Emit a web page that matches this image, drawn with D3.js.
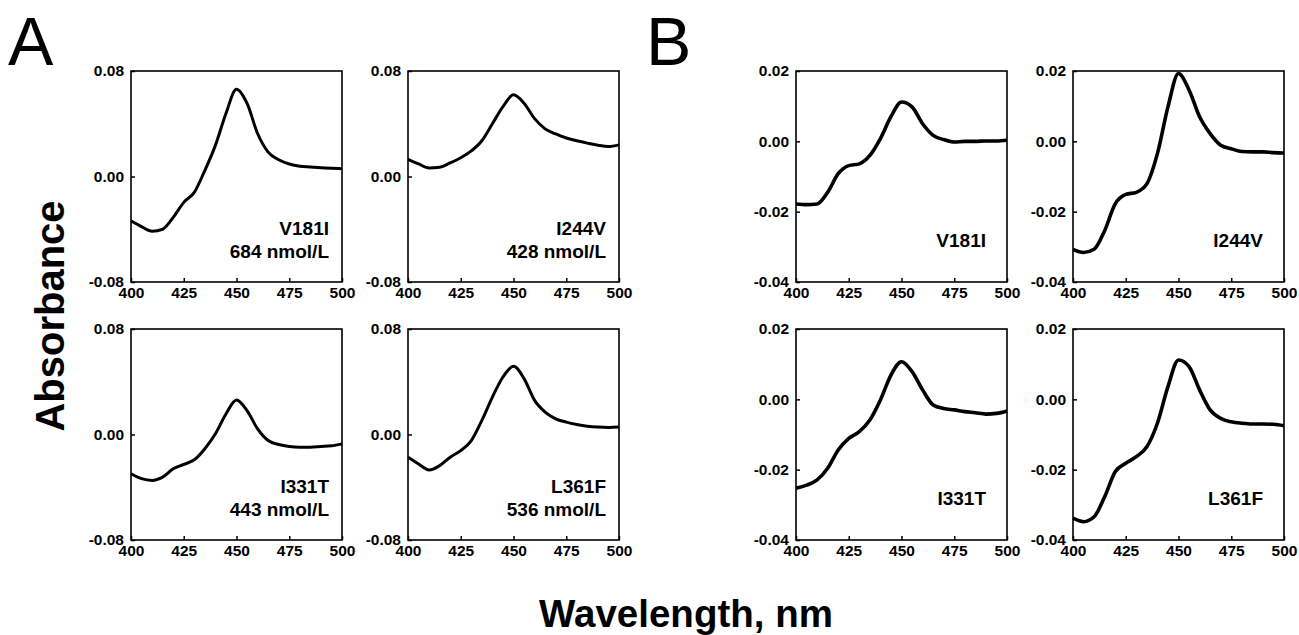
<!DOCTYPE html>
<html>
<head>
  <meta charset="utf-8">
  <script src="https://d3js.org/d3.v7.min.js"></script>
  <style>
    body { margin: 0; background: #fff; }
    .axis text { font-family: "Liberation Sans", Arial, sans-serif; font-size: 15.5px; font-weight: bold; fill: #000; }
    .axis path { display: none; }
    .axis line { stroke: #000; stroke-width: 1.5; }
    .frame { fill: none; stroke: #000; stroke-width: 1.6; }
    .spectrum { fill: none; stroke: #000; stroke-width: 3; stroke-linejoin: round; }
    .spectrum.noisy { stroke-width: 3.6; }
    .note { font-family: "Liberation Sans", Arial, sans-serif; font-size: 19px; font-weight: bold; text-anchor: end; }
    .title { font-family: "Liberation Sans", Arial, sans-serif; font-weight: bold; }
    .letter { font-family: "Liberation Sans", Arial, sans-serif; font-size: 68px; }
  </style>
</head>
<body>
  <script>

    // wavelength grid (nm)
    var wavelengths = [400, 405, 410, 415, 420, 425, 430, 435, 440, 445, 450,
                       455, 460, 465, 470, 475, 480, 485, 490, 495, 500];

    // panel A spectra (absorbance)
    var aV181I = [-0.0335, -0.038, -0.0415, -0.040, -0.031, -0.0196, -0.012, 0.0046, 0.0236, 0.0478, 0.0661,
                  0.0554, 0.0326, 0.0185, 0.0127, 0.0095, 0.0078, 0.0072, 0.0066, 0.0062, 0.0059];
    var aI244V = [0.0129, 0.0095, 0.0065, 0.0070, 0.0103, 0.0142, 0.0194, 0.0271, 0.040, 0.0529, 0.0619,
                  0.0555, 0.0439, 0.0361, 0.0323, 0.0292, 0.0271, 0.0253, 0.0237, 0.0227, 0.024];
    var aI331T = [-0.0298, -0.0335, -0.0348, -0.0323, -0.026, -0.0227, -0.0192, -0.0108, 0.0005, 0.0156, 0.0262,
                  0.0181, 0.0043, -0.0045, -0.0076, -0.0091, -0.0096, -0.0096, -0.0091, -0.0086, -0.0071];
    var aL361F = [-0.0172, -0.0223, -0.0269, -0.0236, -0.0172, -0.0122, -0.0046, 0.0107, 0.0284, 0.0436, 0.0517,
                  0.0424, 0.0259, 0.017, 0.0119, 0.0094, 0.0076, 0.0063, 0.0056, 0.0053, 0.0056];

    // panel B spectra (absorbance)
    var bV181I = [-0.0178, -0.018, -0.0178, -0.0145, -0.0092, -0.0069, -0.0064, -0.004, 0.0008, 0.007, 0.0112,
                  0.0098, 0.005, 0.0017, 0.0005, -0.0002, 0.0, 0.0, 0.0001, 0.0001, 0.0003];
    var bI244V = [-0.0307, -0.0316, -0.0307, -0.0254, -0.0178, -0.0151, -0.0145, -0.0121, -0.0035, 0.0098, 0.0193,
                  0.0146, 0.007, 0.0022, -0.0011, -0.0021, -0.0029, -0.003, -0.003, -0.0032, -0.0033];
    var bI331T = [-0.0253, -0.0244, -0.0229, -0.0196, -0.0144, -0.0111, -0.0092, -0.0059, -0.0002, 0.0069, 0.0107,
                  0.0079, 0.0027, -0.0016, -0.0026, -0.003, -0.0035, -0.0038, -0.0042, -0.004, -0.0033];
    var bL361F = [-0.0338, -0.0348, -0.0334, -0.0277, -0.0206, -0.0182, -0.0163, -0.0135, -0.0068, 0.0036, 0.0112,
                  0.0093, 0.0027, -0.003, -0.0054, -0.0064, -0.0068, -0.007, -0.007, -0.0071, -0.0075];

    // labels and ticks
    var variants = ["V181I", "I244V", "I331T", "L361F"];
    var concentrations = ["684 nmol/L", "428 nmol/L", "443 nmol/L", "536 nmol/L"];
    var xTicks = [400, 425, 450, 475, 500];
    var yTicksA = [-0.08, 0, 0.08];
    var yTicksB = [-0.04, -0.02, 0, 0.02];

    // layout
    var W = 1299, H = 635;
    var pw = 211, ph = 211;
    var colsA = [131, 408], colsB = [796, 1073];
    var rows = [71, 329];

    var svg = d3.select("body").append("svg")
        .attr("width", W)
        .attr("height", H);

    var line = d3.line().curve(d3.curveMonotoneX);

    function panel(x0, y0, values, yDomain, yTicks, notes, noteOffset, cls) {
      var g = svg.append("g").attr("transform", "translate(" + x0 + "," + y0 + ")");
      var x = d3.scaleLinear().domain([400, 500]).range([0, pw]);
      var y = d3.scaleLinear().domain(yDomain).range([ph, 0]);

      g.append("g")
          .attr("class", "axis")
          .attr("transform", "translate(0," + ph + ")")
          .call(d3.axisBottom(x).tickValues(xTicks).tickSizeInner(-4).tickSizeOuter(0).tickPadding(5)
            .tickFormat(function(d) { return d; }));

      g.append("g")
          .attr("class", "axis")
          .call(d3.axisLeft(y).tickValues(yTicks).tickSizeInner(-4).tickSizeOuter(0).tickPadding(7)
            .tickFormat(function(d) { return d.toFixed(2); }));

      line.x(function(d, i) { return x(wavelengths[i]); })
          .y(function(d) { return y(d); });

      g.append("path")
          .attr("class", cls)
          .attr("d", line(values));

      g.append("rect")
          .attr("class", "frame")
          .attr("width", pw)
          .attr("height", ph);

      notes.forEach(function(t, i) {
        g.append("text")
            .attr("class", "note")
            .attr("x", pw - noteOffset[0])
            .attr("y", noteOffset[1] + i * 23)
            .text(t);
      });
    }

    var seriesA = [aV181I, aI244V, aI331T, aL361F];
    var seriesB = [bV181I, bI244V, bI331T, bL361F];

    seriesA.forEach(function(s, i) {
      panel(colsA[i % 2], rows[Math.floor(i / 2)], s, [-0.08, 0.08], yTicksA,
            [variants[i], concentrations[i]], [13, 164], "spectrum");
    });
    seriesB.forEach(function(s, i) {
      panel(colsB[i % 2], rows[Math.floor(i / 2)], s, [-0.04, 0.02], yTicksB,
            [variants[i]], [21, 176], "spectrum noisy");
    });

    // panel letters
    svg.append("text").attr("class", "letter").attr("x", 8).attr("y", 65).text("A");
    svg.append("text").attr("class", "letter").attr("x", 646).attr("y", 65).text("B");

    // axis titles
    svg.append("text")
        .attr("class", "title")
        .attr("font-size", 40)
        .attr("text-anchor", "middle")
        .attr("transform", "translate(64,316) rotate(-90)")
        .text("Absorbance");

    svg.append("text")
        .attr("class", "title")
        .attr("font-size", 38.5)
        .attr("text-anchor", "middle")
        .attr("x", 686)
        .attr("y", 627)
        .text("Wavelength, nm");

  </script>
</body>
</html>
